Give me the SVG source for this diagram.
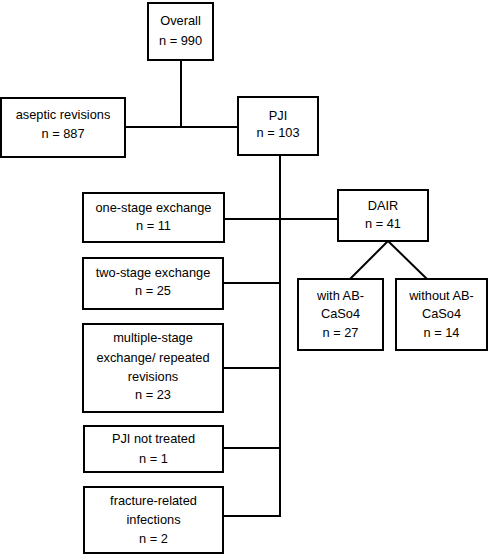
<svg xmlns="http://www.w3.org/2000/svg" width="488" height="560" viewBox="0 0 488 560">
<style>
rect{fill:#fff;stroke:#000;stroke-width:2}
text{font-family:"Liberation Sans",Arial,sans-serif;font-size:12.8px;fill:#000;text-anchor:middle}
.c line{stroke:#000;stroke-width:2}
</style>
<rect x="0" y="0" width="488" height="560" style="stroke:none"/>
<g class="c" id="connectors">
<line x1="181" y1="60" x2="181" y2="127"/>
<line x1="125" y1="127" x2="238" y2="127"/>
<line x1="280" y1="155" x2="280" y2="517"/>
<line x1="224" y1="219" x2="338" y2="219"/>
<line x1="223" y1="283" x2="280" y2="283"/>
<line x1="223" y1="368" x2="280" y2="368"/>
<line x1="223" y1="448" x2="280" y2="448"/>
<line x1="223" y1="516" x2="281" y2="516"/>
<line x1="388" y1="241" x2="350" y2="279"/>
<line x1="388" y1="241" x2="427" y2="279"/>
</g>
<g id="overall"><rect x="148" y="3" width="65" height="57"/><text x="180.5" y="25">Overall</text><text x="180.5" y="45">n = 990</text></g>
<g id="aseptic"><rect x="1" y="98" width="124" height="59"/><text x="63" y="119">aseptic revisions</text><text x="63" y="138">n = 887</text></g>
<g id="pji"><rect x="238" y="97" width="80" height="58"/><text x="278" y="120">PJI</text><text x="278" y="137">n = 103</text></g>
<g id="one"><rect x="83" y="193" width="141" height="49"/><text x="153.5" y="212">one-stage exchange</text><text x="153.5" y="230">n = 11</text></g>
<g id="two"><rect x="83" y="258" width="140" height="51"/><text x="153" y="277">two-stage exchange</text><text x="153" y="295">n = 25</text></g>
<g id="multi"><rect x="83" y="324" width="140" height="88"/><text x="153" y="342">multiple-stage</text><text x="153" y="362">exchange/ repeated</text><text x="153" y="381">revisions</text><text x="153" y="399">n = 23</text></g>
<g id="nottreated"><rect x="84" y="426" width="139" height="46"/><text x="153.5" y="443">PJI not treated</text><text x="153.5" y="463">n = 1</text></g>
<g id="fracture"><rect x="84" y="487" width="139" height="66"/><text x="153.5" y="505">fracture-related</text><text x="153.5" y="524">infections</text><text x="153.5" y="543">n = 2</text></g>
<g id="dair"><rect x="338" y="190" width="90" height="51"/><text x="383" y="210">DAIR</text><text x="383" y="228">n = 41</text></g>
<g id="with"><rect x="298" y="279" width="85" height="71"/><text x="340.5" y="300">with AB-</text><text x="340.5" y="318">CaSo4</text><text x="340.5" y="337">n = 27</text></g>
<g id="without"><rect x="396" y="279" width="91" height="71"/><text x="441.5" y="300">without AB-</text><text x="441.5" y="318">CaSo4</text><text x="441.5" y="337">n = 14</text></g>
</svg>
